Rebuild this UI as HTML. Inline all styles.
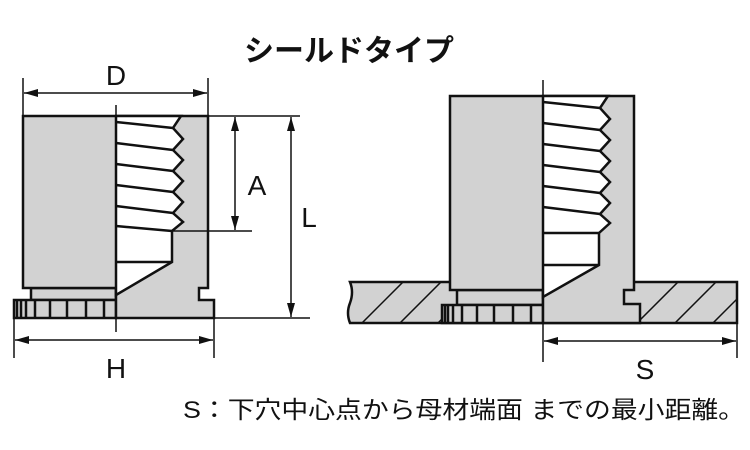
<!DOCTYPE html>
<html><head><meta charset="utf-8"><style>
html,body{margin:0;padding:0;background:#fff;width:750px;height:450px;overflow:hidden}
svg{display:block}
text{font-family:"Liberation Sans","Noto Sans CJK JP",sans-serif;fill:#111}
</style></head><body>
<svg width="750" height="450" viewBox="0 0 750 450" xmlns="http://www.w3.org/2000/svg">
<defs>
<marker id="ar" viewBox="0 0 14 8" refX="14" refY="4" markerWidth="14" markerHeight="8" markerUnits="userSpaceOnUse" orient="auto-start-reverse"><path d="M0,0 L14,4 L0,8 z" fill="#111"/></marker>
<clipPath id="pc"><path d="M350,282 H737 V323 H350 Q346,313 350,303 Q354,292 350,282 Z"/></clipPath>
</defs>
<text x="349" y="61" font-size="30" font-weight="bold" text-anchor="middle" font-family="'Noto Sans CJK JP',sans-serif">シールドタイプ</text>

<g stroke="#111" stroke-width="2.5" fill="#d2d2d2">
<!-- LEFT -->
<rect x="31" y="288" width="85" height="12"/>
<rect x="14" y="300" width="102" height="18"/>
<path d="M23,116 H208 V288 H199 V300 H214 V318 H116 V288 H23 Z"/>
<path d="M116,116 H181 L173,128 L183,139 L173,150 L183,160 L173,171 L183,181 L173,192 L183,202 L173,213 L183,222 L172,231 V262 L116,295 Z" fill="#fff"/>
</g>
<g stroke="#111" stroke-width="2.5" fill="none">
<path d="M116,122 L173,128 M116,143 L173,150 M116,164 L173,171 M116,185 L173,192 M116,206 L173,213 M116,226 L172,231 M116,262 H172"/>
<path d="M17,300V318 M21,300V318 M26,300V318 M35,300V318 M50,300V318 M67,300V318 M86,300V318 M104,300V318"/>
</g>
<g stroke="#111" stroke-width="1.5" fill="none">
<line x1="116" y1="105" x2="116" y2="332"/>
<line x1="23" y1="78" x2="23" y2="116"/><line x1="208" y1="78" x2="208" y2="116"/>
<line x1="24" y1="93" x2="207" y2="93" marker-start="url(#ar)" marker-end="url(#ar)"/>
<line x1="208" y1="116" x2="300" y2="116"/>
<line x1="172" y1="231" x2="252" y2="231"/>
<line x1="235" y1="117" x2="235" y2="230" marker-start="url(#ar)" marker-end="url(#ar)"/>
<line x1="214" y1="318" x2="310" y2="318"/>
<line x1="291" y1="117" x2="291" y2="317" marker-start="url(#ar)" marker-end="url(#ar)"/>
<line x1="14" y1="318" x2="14" y2="358"/><line x1="214" y1="318" x2="214" y2="358"/>
<line x1="15" y1="340" x2="213" y2="340" marker-start="url(#ar)" marker-end="url(#ar)"/>
</g>
<text x="116" y="85" font-size="28" text-anchor="middle">D</text>
<text x="257" y="195" font-size="28" text-anchor="middle">A</text>
<text x="309" y="227" font-size="28" text-anchor="middle">L</text>
<text x="116" y="378" font-size="28" text-anchor="middle">H</text>

<!-- RIGHT -->
<g stroke="#111" stroke-width="2.5" fill="#d2d2d2">
<path d="M350,282 H737 V323 H350 Q346,313 350,303 Q354,292 350,282 Z"/>
</g>
<g clip-path="url(#pc)" stroke="#111" stroke-width="1.5">
<path d="M340,345 L410,275 M378,345 L448,275 M416,345 L486,275 M454,345 L524,275 M615,345 L685,275 M653,345 L723,275 M691,345 L761,275 M729,345 L799,275"/>
</g>
<g stroke="#111" stroke-width="2.5" fill="#d2d2d2">
<rect x="457" y="290" width="86" height="15"/>
<rect x="442" y="305" width="101" height="18"/>
<path d="M450,96 H634 V290 H624 V304 H640 V323 H543 V290 H450 Z"/>
<path d="M543,96 H608 L600,108 L610,119 L600,130 L610,140 L600,151 L610,161 L600,172 L610,182 L600,193 L610,203 L600,214 L610,223 L599,233 V265 L543,297 Z" fill="#fff"/>
</g>
<g stroke="#111" stroke-width="2.5" fill="none">
<path d="M543,102 L600,108 M543,123 L600,130 M543,144 L600,151 M543,165 L600,172 M543,186 L600,193 M543,207 L600,214 M543,233 H599 M543,265 H599"/>
<path d="M445,305V323 M448,305V323 M453,305V323 M462,305V323 M477,305V323 M494,305V323 M513,305V323 M531,305V323"/>
</g>
<g stroke="#111" stroke-width="1.5" fill="none">
<line x1="543" y1="80" x2="543" y2="362"/>
<line x1="737" y1="323" x2="737" y2="358"/>
<line x1="544" y1="341" x2="736" y2="341" marker-start="url(#ar)" marker-end="url(#ar)"/>
</g>
<text x="645" y="379" font-size="28" text-anchor="middle">S</text>

<text x="183" y="418" font-size="24" textLength="562" lengthAdjust="spacingAndGlyphs">S：下穴中心点から母材端面 までの最小距離。</text>
</svg>
</body></html>
